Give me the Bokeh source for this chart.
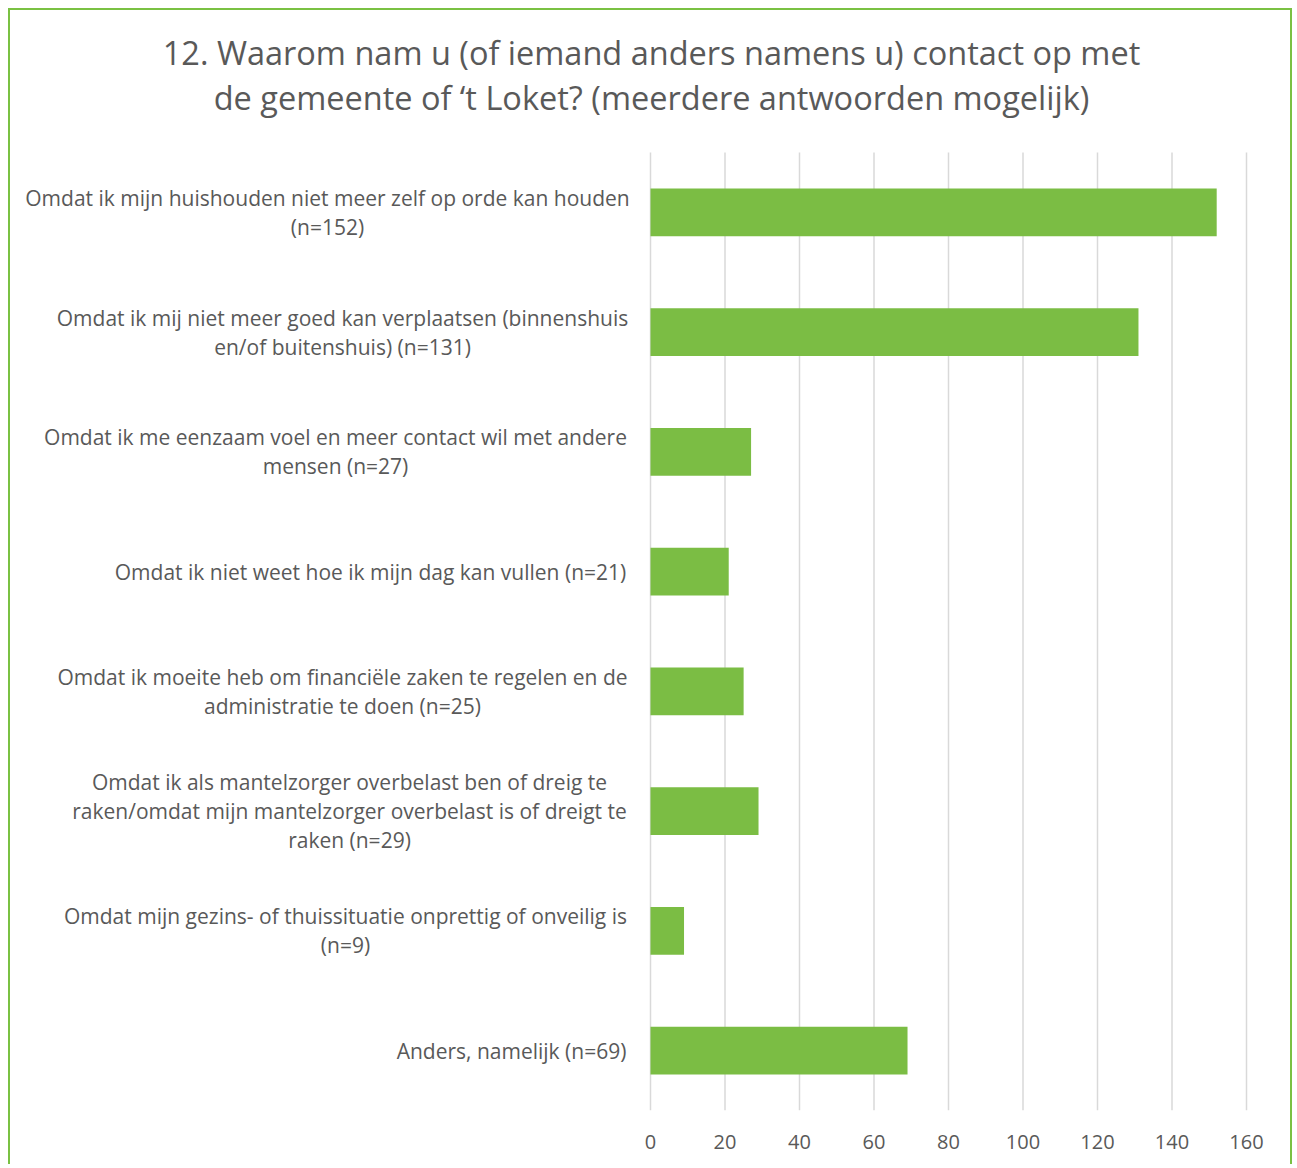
from bokeh.plotting import figure
from bokeh.models import Range1d, FixedTicker, ColumnDataSource
from bokeh.core.properties import value
from bokeh.embed import file_html
from bokeh.resources import INLINE

# ---- data ----
categories = [
    "Omdat ik mijn huishouden niet meer zelf op orde kan houden\n(n=152)",
    "Omdat ik mij niet meer goed kan verplaatsen (binnenshuis\nen/of buitenshuis) (n=131)",
    "Omdat ik me eenzaam voel en meer contact wil met andere\nmensen (n=27)",
    "Omdat ik niet weet hoe ik mijn dag kan vullen (n=21)",
    "Omdat ik moeite heb om financiële zaken te regelen en de\nadministratie te doen (n=25)",
    "Omdat ik als mantelzorger overbelast ben of dreig te\nraken/omdat mijn mantelzorger overbelast is of dreigt te\nraken (n=29)",
    "Omdat mijn gezins- of thuissituatie onprettig of onveilig is\n(n=9)",
    "Anders, namelijk (n=69)",
]
values = [152, 131, 27, 21, 25, 29, 9, 69]
x_ticks = [0, 20, 40, 60, 80, 100, 120, 140, 160]
title_text = ("12. Waarom nam u (of iemand anders namens u) contact op met\n"
              "de gemeente of \u2018t Loket? (meerdere antwoorden mogelijk)")

# ---- styling / layout (page pixels) ----
FONT = "Open Sans"
TXT = "#595959"
BAR = "#7BBD44"
BORDER = "#7AC143"
GRID = "#D9D9D9"
label_centers_px = [327, 342, 335, 370, 342, 349, 345, 511]
CANVAS_LEFT, CANVAS_TOP = 10, 10
CANVAS_W, CANVAS_H = 1284, 1156
ZERO_PX, MAX_PX = 650, 1246          # x=0 and x=160 in page px
BAND_TOP_PX, BAND_BOTTOM_PX = 152, 1110
FRAME_BOTTOM_PX = 1110
XMAX = 160
n = len(categories)

sx = (MAX_PX - ZERO_PX) / XMAX
sy = (BAND_BOTTOM_PX - BAND_TOP_PX) / n


def px_to_x(px):
    return (px - ZERO_PX) / sx


def px_to_y(py):
    return -0.5 + (py - BAND_TOP_PX) / sy


x_start = px_to_x(CANVAS_LEFT)
x_end = px_to_x(CANVAS_LEFT + CANVAS_W)
y_top = px_to_y(CANVAS_TOP)
y_bottom = px_to_y(FRAME_BOTTOM_PX)

p = figure(width=CANVAS_W, height=CANVAS_H, output_backend="svg",
           toolbar_location=None,
           x_range=Range1d(x_start, x_end), y_range=Range1d(y_bottom, y_top),
           min_border_left=0, min_border_right=0, min_border_top=0,
           min_border_bottom=CANVAS_TOP + CANVAS_H - FRAME_BOTTOM_PX)
p.margin = (8, 0, 0, 8)
p.styles = {"border-top": f"2px solid {BORDER}",
            "border-left": f"2px solid {BORDER}",
            "border-right": f"2px solid {BORDER}"}
p.outline_line_color = None
p.background_fill_color = "white"
p.border_fill_color = "white"
p.xgrid.visible = False
p.ygrid.visible = False
p.yaxis.visible = False

# vertical grid lines at the tick values, spanning the category bands
p.segment(x0=x_ticks, x1=x_ticks, y0=[-0.5] * len(x_ticks),
          y1=[n - 0.5] * len(x_ticks), line_color=GRID, line_width=1.5)

src = ColumnDataSource(dict(y=list(range(n)), v=values))
p.hbar(y="y", left=0, right="v", height=0.4, source=src,
       fill_color=BAR, line_color=None)

p.xaxis.ticker = FixedTicker(ticks=x_ticks)
p.xaxis.axis_line_color = None
p.xaxis.major_tick_line_color = None
p.xaxis.minor_tick_line_color = None
p.xaxis.major_label_standoff = 18
p.xaxis.major_label_text_font = FONT
p.xaxis.major_label_text_font_size = "20px"
p.xaxis.major_label_text_color = TXT

lab = ColumnDataSource(dict(x=[px_to_x(c) for c in label_centers_px],
                            y=list(range(n)), t=categories))
p.text(x="x", y="y", text="t", source=lab, text_align="center",
       text_baseline="middle", text_font=value(FONT), text_font_size="21px",
       text_color=TXT, text_line_height=1.03)

p.text(x=[px_to_x(651)], y=[px_to_y(74.5)], text=[title_text],
       text_align="center", text_baseline="middle", text_font=value(FONT),
       text_font_size="32.5px", text_color=TXT, text_line_height=1.02)

open("out.html", "w").write(file_html(p, INLINE))
